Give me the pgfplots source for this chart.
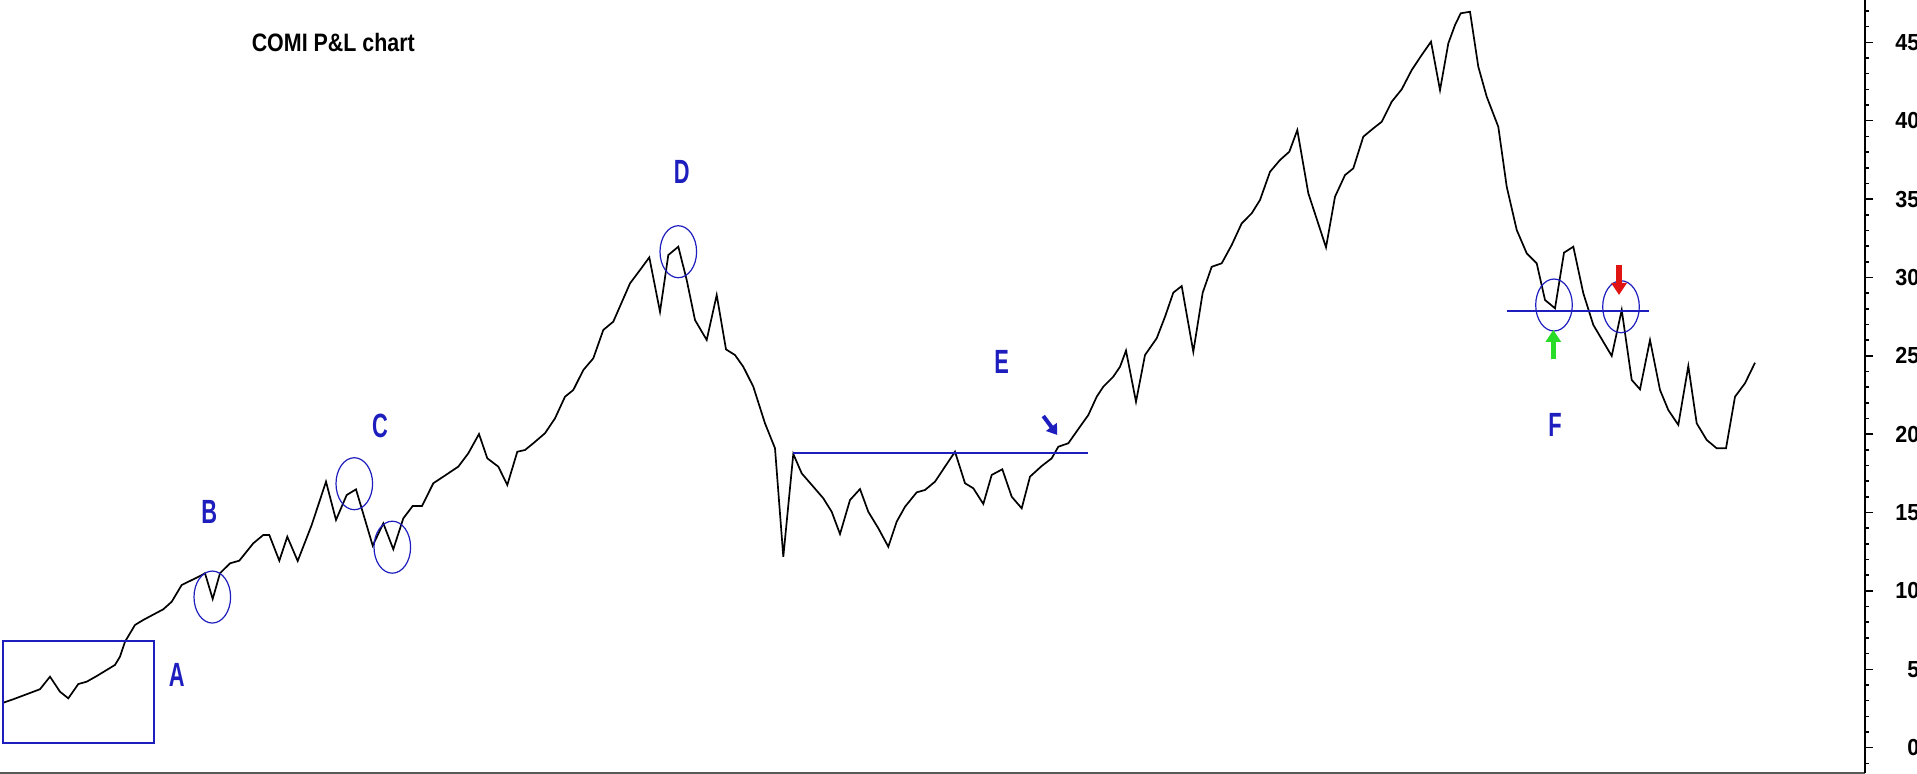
\documentclass[border=0pt]{standalone}
\usepackage{fontspec}
\setmainfont{Liberation Sans}
\usepackage{graphicx}
\usepackage{pgfplots}
\pgfplotsset{compat=1.18}
\usetikzlibrary{arrows.meta}
\definecolor{annblue}{RGB}{30,30,190}
\definecolor{arrgreen}{RGB}{40,220,40}
\definecolor{arrred}{RGB}{225,20,20}
\begin{document}
\begin{tikzpicture}
\begin{axis}[
  scale only axis, width=932.5pt, height=386.35pt,
  xmin=0, xmax=1865, ymin=-1.595, ymax=47.70,
  axis x line=bottom, axis y line=right,
  x axis line style={-, line width=0.9pt, black!65},
  y axis line style={-, line width=0.8pt, black},
  xtick=\empty,
  ytick={0,5,...,45}, minor y tick num=4,
  extra y ticks={-1,46,47}, extra y tick labels={},
  extra y tick style={major tick length=2pt},
  tick align=outside,
  major tick length=4pt, minor tick length=2pt,
  every tick/.style={line width=0.8pt, black},
  /pgf/number format/assume math mode=true,
  yticklabel={\scalebox{0.93}[1]{\pgfmathprintnumber{\tick}}},
  yticklabel style={font=\bfseries\fontsize{11.6}{12}\selectfont, anchor=east, inner sep=0pt, xshift=23.4pt},
  clip=false,
]
\addplot[black, line width=0.85pt] coordinates {
(3.3,2.87) (13.3,3.09) (40,3.73) (50,4.53) (60,3.57) (68.3,3.15) (78.3,4.06) (86.7,4.21)
(96.7,4.57) (115,5.28) (120,5.81) (125,6.76) (135,7.83) (143.3,8.15) (163.3,8.83) (171.7,9.31)
(181.7,10.38) (200,10.95) (205,11.13) (212.7,9.49) (220,11.13) (230,11.76) (239.3,11.93)
(253.3,13.04) (263.3,13.57) (269.3,13.57) (279.3,11.93) (287.3,13.46) (297.7,11.91)
(311.7,14.21) (326,16.97) (336,14.53) (346.7,16.12) (356,16.48) (372.7,12.89) (383.3,14.31)
(393.3,12.66) (403.3,14.63) (412.7,15.42) (422,15.42) (433.3,16.87) (443.3,17.29)
(458.3,17.93) (468.3,18.78) (479,20.01) (487.3,18.46) (498.3,17.93) (507.3,16.76)
(517.3,18.88) (525,18.99) (533.3,19.42) (545,20.06) (555,21.01) (565,22.39) (573.3,22.82)
(583.3,24.09) (593.3,24.84) (603.3,26.65) (613.3,27.18) (630,29.62) (640,30.47) (649.3,31.28)
(660,27.81) (668.3,31.43) (678.3,31.96) (686.7,29.84) (695,27.28) (706.7,26.01) (716.7,28.88)
(726,25.41) (735,25.05) (743.3,24.30) (753.3,23.03) (765,20.69) (775,19.10) (783.3,12.18)
(793.3,18.74) (801.7,17.50) (813.3,16.65) (823.3,15.91) (831.7,15.05) (840,13.63) (850,15.80)
(860,16.50) (868.3,15.05) (878.3,14.00) (888.3,12.82) (896.7,14.42) (905,15.37) (916.7,16.29)
(925,16.44) (935,16.97) (945,17.93) (955,18.88) (965,16.87) (973.3,16.55) (983.3,15.55)
(991.7,17.40) (1002.3,17.76) (1011.7,16.01) (1021.7,15.27) (1030,17.29) (1041.7,17.97)
(1051.7,18.46) (1058.3,19.20) (1068.3,19.42) (1080,20.48) (1088.3,21.22) (1096.7,22.39)
(1103.3,23.03) (1113.3,23.67) (1120,24.30) (1126,25.33) (1136,22.07) (1145,25.05)
(1156.7,26.12) (1165,27.49) (1173.3,29.03) (1181.7,29.45) (1193.3,25.26) (1202.7,29.03)
(1211.7,30.68) (1221.7,30.90) (1231.7,32.07) (1241.7,33.45) (1251.7,34.09) (1260,34.94)
(1270,36.74) (1280,37.49) (1289.3,38.02) (1297.3,39.40) (1308.3,35.37) (1326,31.92)
(1335,35.15) (1345,36.53) (1353.3,36.96) (1363.3,38.98) (1373.3,39.51) (1381.7,39.93)
(1391.7,41.21) (1401.7,42.00) (1411.7,43.23) (1421.7,44.19) (1431,45.04) (1440,41.95)
(1448.3,44.93) (1455,46.10) (1460.7,46.85) (1470,46.95) (1478.3,43.44) (1486.7,41.53)
(1498.3,39.61) (1506.7,35.79) (1516.7,33.03) (1526.7,31.54) (1536.7,30.90) (1545,28.56)
(1555,28.03) (1564,31.58) (1573.3,31.96) (1583.3,28.99) (1593.3,26.97) (1611.7,24.99)
(1621.7,27.92) (1631.7,23.46) (1640,22.86) (1650,26.01) (1660,22.82) (1668.3,21.54)
(1678.3,20.59) (1688.3,24.35) (1696.7,20.69) (1706.7,19.63) (1716.7,19.10) (1726,19.10)
(1735,22.39) (1745,23.25) (1755,24.56)
};
% annotations
\draw[annblue, line width=1pt] (axis cs:3,0.28) rectangle (axis cs:154,6.83);
\draw[annblue, line width=0.6pt] (axis cs:212.3,9.61) ellipse [x radius=9.15pt, y radius=13pt];
\draw[annblue, line width=0.6pt] (axis cs:354.3,16.84) ellipse [x radius=9.15pt, y radius=13pt];
\draw[annblue, line width=0.6pt] (axis cs:392.3,12.79) ellipse [x radius=9.15pt, y radius=13pt];
\draw[annblue, line width=0.6pt] (axis cs:678.3,31.64) ellipse [x radius=9.15pt, y radius=13pt];
\draw[annblue, line width=0.6pt] (axis cs:1554,28.24) ellipse [x radius=9.15pt, y radius=13pt];
\draw[annblue, line width=0.6pt] (axis cs:1621,28.13) ellipse [x radius=9.15pt, y radius=13pt];
\draw[annblue, line width=1pt] (axis cs:793.3,18.78) -- (axis cs:1088.3,18.78);
\draw[annblue, line width=1pt] (axis cs:1506.7,27.86) -- (axis cs:1649.3,27.86);
\draw[arrgreen, line width=2.6pt, -{Triangle[width=7.5pt,length=6pt]}] (axis cs:1553.3,24.77) -- (axis cs:1553.3,26.65);
\draw[arrred, line width=2.6pt, -{Triangle[width=7.5pt,length=6pt]}] (axis cs:1619,30.79) -- (axis cs:1619,28.88);
\draw[annblue, line width=2pt, -{Triangle[width=6.5pt,length=5pt]}] (axis cs:1043.3,21.16) -- (axis cs:1057.3,19.95);
% labels
\node[inner sep=0pt, font=\bfseries\fontsize{12.6}{13}\selectfont] at (axis cs:333.3,44.98) {\scalebox{0.85}[1]{COMI P\&L chart}};
\node[annblue, inner sep=0pt, font=\bfseries\fontsize{16.8}{17}\selectfont] at (axis cs:176.7,4.62) {\scalebox{0.65}[1]{A}};
\node[annblue, inner sep=0pt, font=\bfseries\fontsize{16.8}{17}\selectfont] at (axis cs:209.3,15.03) {\scalebox{0.65}[1]{B}};
\node[annblue, inner sep=0pt, font=\bfseries\fontsize{16.8}{17}\selectfont] at (axis cs:380,20.52) {\scalebox{0.65}[1]{C}};
\node[annblue, inner sep=0pt, font=\bfseries\fontsize{16.8}{17}\selectfont] at (axis cs:681.7,36.74) {\scalebox{0.65}[1]{D}};
\node[annblue, inner sep=0pt, font=\bfseries\fontsize{16.8}{17}\selectfont] at (axis cs:1001.7,24.6) {\scalebox{0.65}[1]{E}};
\node[annblue, inner sep=0pt, font=\bfseries\fontsize{16.8}{17}\selectfont] at (axis cs:1555,20.59) {\scalebox{0.65}[1]{F}};
\end{axis}
\pgfresetboundingbox
\path[use as bounding box] (0,-0.65pt) rectangle (958.5pt,386.35pt);
\end{tikzpicture}
\end{document}
